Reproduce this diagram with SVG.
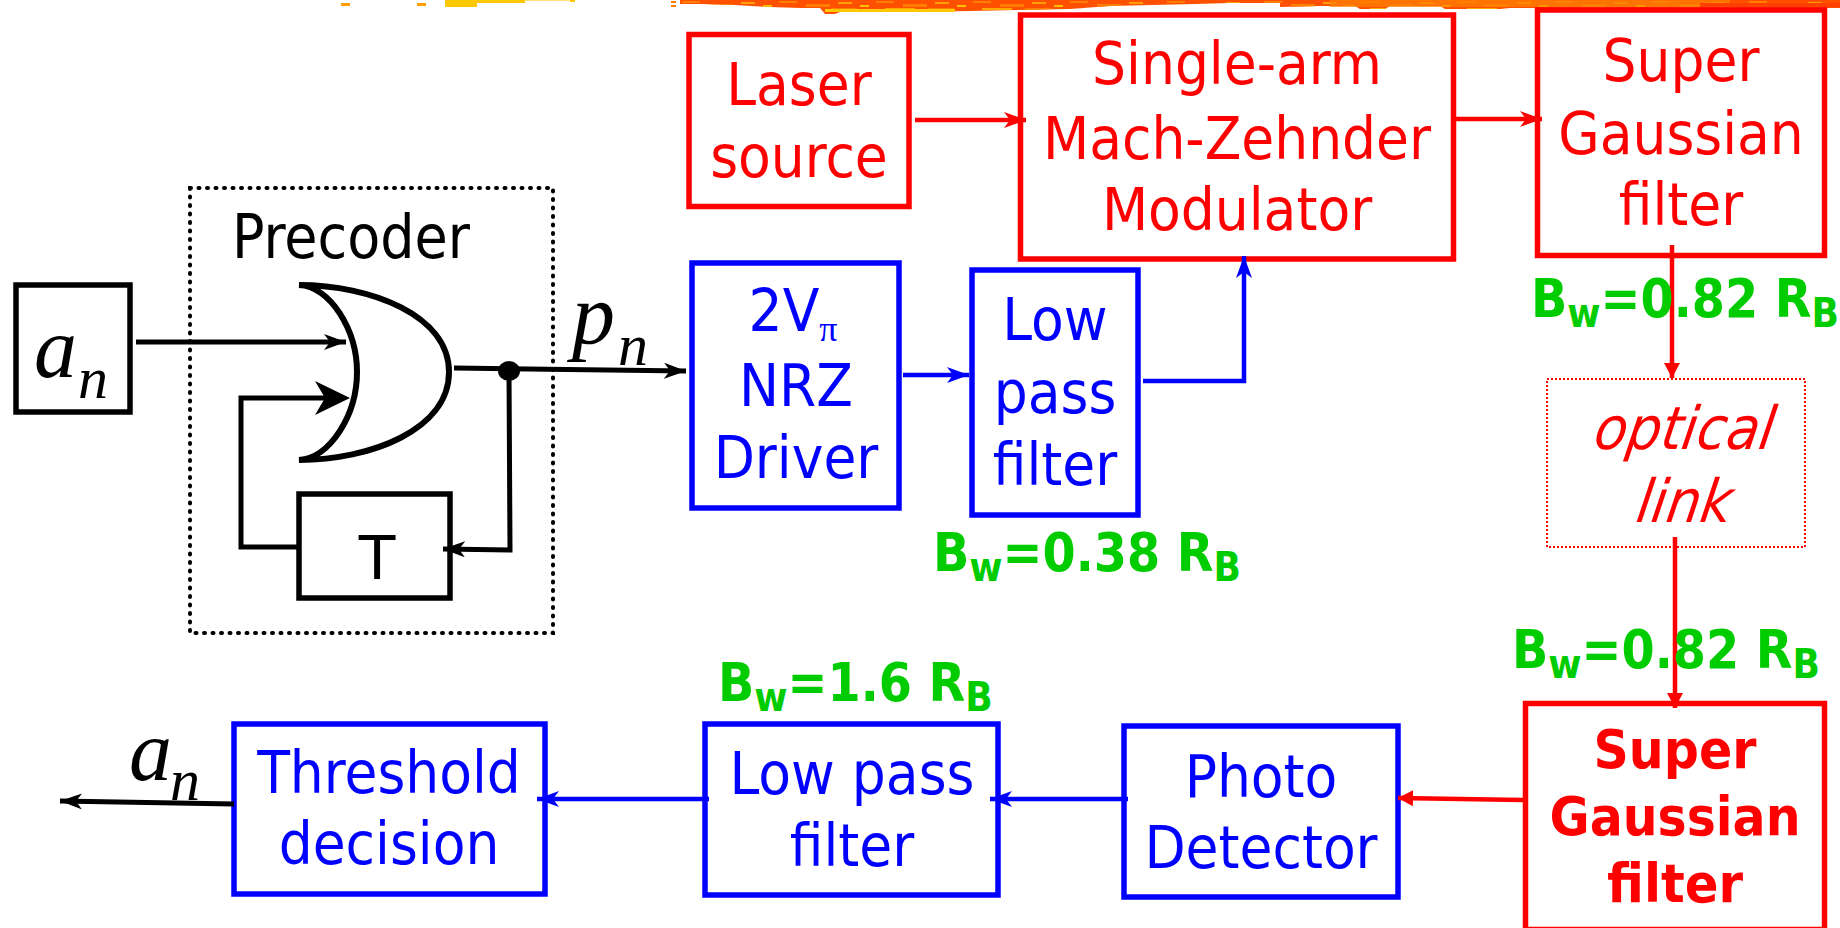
<svg xmlns="http://www.w3.org/2000/svg" width="1840" height="928" viewBox="0 0 1840 928">
<style>
text{font-family:"DejaVu Sans Condensed","DejaVu Sans",sans-serif;text-anchor:middle}
.r{fill:#f00;font-size:59.5px}.b{fill:#00f;font-size:59.5px}.k{fill:#000;font-size:60px}
.sb{fill:#f00;font-size:53px;font-weight:bold}
.g{fill:#0c0;font-size:53px;font-weight:bold;text-anchor:start}
.g .s{font-size:40px}
.m{font-family:"Liberation Serif",serif;font-style:italic;fill:#000;text-anchor:start}
.br{fill:#fff;stroke:#f00;stroke-width:5.5}.bb{fill:#fff;stroke:#00f;stroke-width:5.5}.bk{fill:#fff;stroke:#000;stroke-width:5.5}
.lk{fill:none;stroke:#000;stroke-width:5}.lr{fill:none;stroke:#f00;stroke-width:4.5}.lb{fill:none;stroke:#00f;stroke-width:4.5}
</style>
<defs>
<marker id="ak" markerUnits="userSpaceOnUse" markerWidth="24" markerHeight="18" refX="22" refY="8" orient="auto"><path d="M0 0L22 8L0 16L6 8Z" fill="#000"/></marker>
<marker id="ar" markerUnits="userSpaceOnUse" markerWidth="24" markerHeight="18" refX="22" refY="8" orient="auto"><path d="M0 0L22 8L0 16L6 8Z" fill="#f00"/></marker>
<marker id="as" markerUnits="userSpaceOnUse" markerWidth="18" markerHeight="18" refX="15" refY="8" orient="auto"><path d="M0 0L15 8L0 16Z" fill="#f00"/></marker>
<marker id="ab" markerUnits="userSpaceOnUse" markerWidth="24" markerHeight="18" refX="22" refY="8" orient="auto"><path d="M0 0L22 8L0 16L6 8Z" fill="#00f"/></marker>
<pattern id="noise" patternUnits="userSpaceOnUse" width="97" height="13">
<rect x="3" y="1" width="18" height="2" fill="#ff8000"/><rect x="30" y="4" width="24" height="3" fill="#ff8000"/><rect x="62" y="2" width="14" height="2" fill="#ffa000"/><rect x="12" y="8" width="30" height="2" fill="#ffa800"/><rect x="55" y="8" width="26" height="3" fill="#ff8000"/><rect x="84" y="5" width="9" height="2" fill="#ffc000"/>
</pattern>
</defs>
<g id="band">
<path d="M680 0H1840V8H1510L1500 9H1445L1440 6H1390L1385 9H1360L1355 6H1320L1280 7V3H1230L1195 4L1110 6L1070 9L970 11L900 12L840 12L835 14H825L820 8L800 8L770 7L735 5L700 4H680Z" fill="#ff5000"/>
<path d="M680 0H1840V8H1510L1500 9H1445L1440 6H1390L1385 9H1360L1355 6H1320L1280 7V3H1230L1195 4L1110 6L1070 9L970 11L900 12L840 12L835 14H825L820 8L800 8L770 7L735 5L700 4H680Z" fill="url(#noise)"/>
<rect x="1330" y="0" width="400" height="7" fill="#ff8000" opacity=".75"/>
<rect x="1700" y="3" width="140" height="4" fill="#ff4000"/>
<rect x="825" y="9" width="130" height="3" fill="#ffc800"/>
<rect x="445" y="0" width="32" height="7" fill="#ffc800"/><rect x="477" y="0" width="48" height="3" fill="#ffc800"/>
<rect x="525" y="0" width="50" height="1" fill="#ffe080"/>
<rect x="341" y="3" width="9" height="3" fill="#ffa000"/><rect x="417" y="3" width="9" height="3" fill="#ffa000"/>
<rect x="570" y="0" width="5" height="2" fill="#ffc800"/><rect x="671" y="1" width="5" height="2" fill="#ff8000"/><rect x="671" y="5" width="5" height="2" fill="#ff8000"/>
</g>
<g id="precoder">
<rect x="190" y="188" width="363" height="445" fill="none" stroke="#000" stroke-width="4" stroke-dasharray="1 7.5" stroke-linecap="round"/>
<text class="k" x="351" y="258">Precoder</text>
</g>
<g id="gate">
<path d="M299 285C330 286 357 330 357 372C357 415 330 458 299 460C370 460 449 430 449 372C449 315 370 285 299 285Z" fill="#fff" stroke="#000" stroke-width="6"/>
</g>
<g id="an-in"><rect class="bk" x="16" y="285" width="114" height="127"/><text class="m" x="34" y="377" font-size="86">a</text><text class="m" x="78" y="398" font-size="60">n</text></g>
<g id="T"><rect class="bk" x="299" y="494" width="151" height="104"/><text class="k" x="377" y="579" style="font-family:'DejaVu Sans',sans-serif">T</text></g>
<g id="laser"><rect class="br" x="689" y="34.5" width="220" height="172"/><text class="r" x="799" y="105">Laser</text><text class="r" x="799" y="177">source</text></g>
<g id="mzm"><rect class="br" x="1020.5" y="15" width="433" height="244"/><text class="r" x="1237" y="84">Single-arm</text><text class="r" x="1237" y="159">Mach-Zehnder</text><text class="r" x="1237" y="230">Modulator</text></g>
<g id="sg1"><rect class="br" x="1537.5" y="10" width="287" height="245.5"/><text class="r" x="1681" y="81">Super</text><text class="r" x="1681" y="154">Gaussian</text><text class="r" x="1681" y="225">filter</text></g>
<g id="driver"><rect class="bb" x="692" y="263" width="207" height="245"/><text class="b" x="793" y="331">2V<tspan font-size="36" dy="10" font-family="Liberation Serif">π</tspan></text><text class="b" x="796" y="406">NRZ</text><text class="b" x="796" y="478">Driver</text></g>
<g id="lpf1"><rect class="bb" x="972" y="270" width="166" height="245"/><text class="b" x="1055" y="340">Low</text><text class="b" x="1055" y="413">pass</text><text class="b" x="1055" y="485">filter</text></g>
<g id="link"><rect x="1547" y="379" width="258" height="168" fill="#fff" stroke="#f00" stroke-width="2" stroke-dasharray="2 2"/><text class="r" transform="translate(1682 449) skewX(-9)" font-style="italic" x="0" y="0">optical</text><text class="r" transform="translate(1682 522) skewX(-9)" font-style="italic" x="0" y="0">link</text></g>
<g id="sg2"><rect class="br" x="1525.5" y="703.5" width="299" height="226"/><text class="sb" x="1675" y="768" textLength="163" lengthAdjust="spacingAndGlyphs">Super</text><text class="sb" x="1675" y="835" textLength="251" lengthAdjust="spacingAndGlyphs">Gaussian</text><text class="sb" x="1675" y="902" textLength="136" lengthAdjust="spacingAndGlyphs">filter</text></g>
<g id="photo"><rect class="bb" x="1124" y="726" width="274" height="171"/><text class="b" x="1261" y="797">Photo</text><text class="b" x="1261" y="868">Detector</text></g>
<g id="lpf2"><rect class="bb" x="705" y="724" width="293" height="171"/><text class="b" x="852" y="794">Low pass</text><text class="b" x="852" y="866">filter</text></g>
<g id="thresh"><rect class="bb" x="234" y="724" width="311" height="170"/><text class="b" x="389" y="793">Threshold</text><text class="b" x="389" y="864">decision</text></g>
<g id="connectors">
<path class="lk" d="M136 342H346" marker-end="url(#ak)"/>
<path class="lk" d="M297 547H241V398H340"/>
<path d="M315 381L350 398L315 415L325 398Z" fill="#000"/>
<path class="lk" d="M454 368L686 371" marker-end="url(#ak)"/>
<ellipse cx="509" cy="371" rx="11" ry="10"/>
<path class="lk" d="M509 371L510 550L443 549" marker-end="url(#ak)"/>
<path class="lr" d="M915 120H1026" marker-end="url(#ar)"/>
<path class="lr" d="M1451 119H1542" marker-end="url(#ar)"/>
<path class="lb" d="M903 375H969" marker-end="url(#ab)"/>
<path class="lb" d="M1143 381H1244V256" marker-end="url(#ab)"/>
<path class="lr" d="M1672 245V378" stroke-width="5" marker-end="url(#as)"/>
<path class="lr" d="M1675 537V708" stroke-width="5" marker-end="url(#as)"/>
<path class="lr" d="M1523 800L1398 798" stroke-width="5" marker-end="url(#as)"/>
<path class="lb" d="M1128 799H990" marker-end="url(#ab)"/>
<path class="lb" d="M709 799H537" marker-end="url(#ab)"/>
<path class="lk" d="M234 804L60 801" marker-end="url(#ak)"/>
</g>
<g id="labels">
<text class="m" x="572" y="343" font-size="86">p</text><text class="m" x="618" y="365" font-size="60">n</text>
<text class="m" x="129" y="780" font-size="86">a</text><text class="m" x="170" y="800" font-size="60">n</text>
<text class="g" x="1531" y="317">B<tspan class="s" dy="10">w</tspan><tspan dy="-10">=0.82 R</tspan><tspan class="s" dy="10">B</tspan></text>
<text class="g" x="1512" y="668">B<tspan class="s" dy="10">w</tspan><tspan dy="-10">=0.82 R</tspan><tspan class="s" dy="10">B</tspan></text>
<text class="g" x="933" y="571">B<tspan class="s" dy="10">w</tspan><tspan dy="-10">=0.38 R</tspan><tspan class="s" dy="10">B</tspan></text>
<text class="g" x="718" y="701">B<tspan class="s" dy="10">w</tspan><tspan dy="-10">=1.6 R</tspan><tspan class="s" dy="10">B</tspan></text>
</g>
</svg>
